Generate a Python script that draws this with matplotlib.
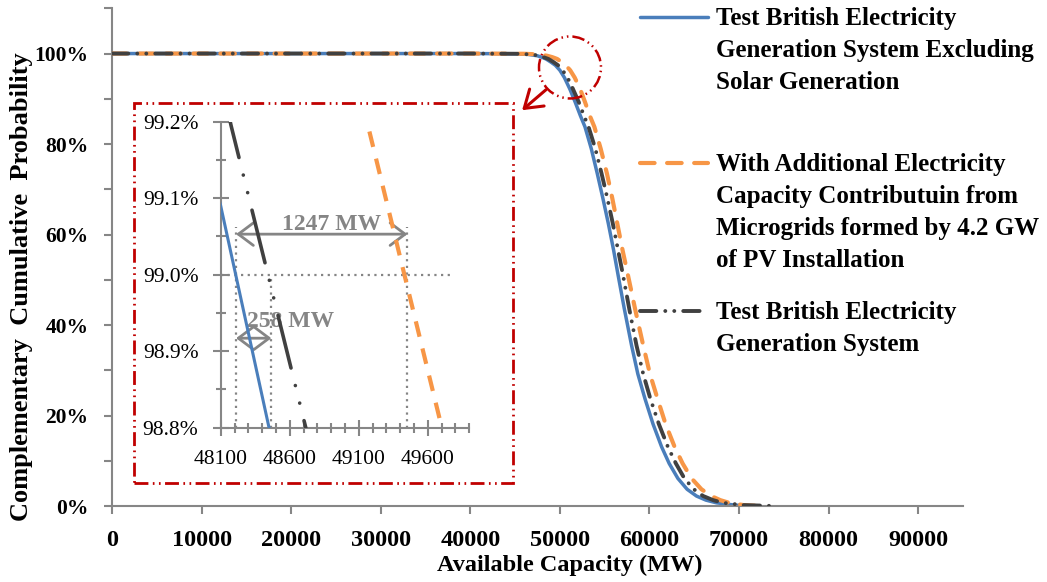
import matplotlib
matplotlib.use('Agg')
import matplotlib.pyplot as plt
from matplotlib.ticker import PercentFormatter, MultipleLocator
from matplotlib.patches import Rectangle, Ellipse, FancyArrowPatch
from matplotlib.lines import Line2D

plt.rcParams['font.family'] = ['Liberation Serif', 'DejaVu Serif']

# available capacity (MW) vs complementary cumulative probability
cap_excl = [0, 40000, 45000, 46500, 47500, 48100, 48450, 49000, 49500, 50000, 50500, 51100,
            51700, 52300, 52800, 53500, 54170, 54800, 55400, 56000, 56500, 57200, 58000,
            58700, 59500, 60400, 61350, 62200, 63170, 64200, 65250, 66300, 67480, 69500, 71500]
prob_excl = [1.0, 1.0, 0.9995, 0.998, 0.995, 0.9909, 0.988, 0.981, 0.974, 0.963, 0.947, 0.922,
             0.893, 0.862, 0.838, 0.79, 0.735, 0.68, 0.625, 0.565, 0.51, 0.435, 0.355,
             0.292, 0.237, 0.181, 0.131, 0.094, 0.061, 0.037, 0.022, 0.013, 0.007, 0.002, 0.0]

cap_pv = [0, 40000, 46000, 47700, 48600, 49162, 49701, 50200, 50650, 51150, 51650, 52250,
          52800, 53350, 53850, 54550, 55250, 55850, 56400, 57000, 57600, 58400, 59300,
          60050, 60900, 61800, 62800, 63700, 64700, 65800, 66900, 67900, 68900, 70500, 72500]
prob_pv = [1.0, 1.0, 0.9995, 0.998, 0.995, 0.99198, 0.988, 0.981, 0.974, 0.963, 0.947, 0.922,
           0.893, 0.862, 0.838, 0.79, 0.735, 0.68, 0.625, 0.565, 0.51, 0.435, 0.355,
           0.292, 0.237, 0.181, 0.131, 0.094, 0.061, 0.037, 0.022, 0.013, 0.007, 0.002, 0.0]

cap_test = [0, 40000, 45300, 46800, 47800, 48175, 48716, 49300, 49800, 50300, 50850, 51450,
            52100, 52700, 53200, 53950, 54650, 55300, 55900, 56500, 57050, 57750, 58550,
            59300, 60100, 61050, 62050, 62950, 63900, 64950, 66000, 67100, 68200, 70500, 74000]
prob_test = [1.0, 1.0, 0.9995, 0.998, 0.995, 0.99195, 0.988, 0.981, 0.974, 0.963, 0.947, 0.922,
             0.893, 0.862, 0.838, 0.79, 0.735, 0.68, 0.625, 0.565, 0.51, 0.435, 0.355,
             0.292, 0.237, 0.181, 0.131, 0.094, 0.061, 0.037, 0.022, 0.013, 0.007, 0.002, 0.0]

# capacities where each curve crosses 99.0 %
level = 0.99
cross_excl = 48211
cross_test = 48467
cross_pv = 49452
gap_test = 258
gap_pv = 1247

labels_excl = ['Test British Electricity', 'Generation System Excluding', 'Solar Generation']
labels_pv = ['With Additional Electricity', 'Capacity Contributuin from',
             'Microgrids formed by 4.2 GW', 'of PV Installation']
labels_test = ['Test British Electricity', 'Generation System']

blue = '#4A7EBB'
orange = '#F79646'
dark = '#404040'
red = '#C00000'
axis_gray = '#868686'
note_gray = '#858585'

W, H = 1047, 582


def fx(px):
    return px / W


def fy(py):
    return 1 - py / H


style_excl = dict(color=blue, lw=2.5, solid_capstyle='round')
style_pv = dict(color=orange, lw=3, ls=(0, (3.5, 3)), dash_capstyle='round')
style_test = dict(color=dark, lw=2.8, ls=(0, (4.2, 2.3, 0.01, 2.3, 0.01, 2.3)), dash_capstyle='round')

fig = plt.figure(figsize=(W / 100, H / 100), dpi=100)

# main chart
ax = fig.add_axes([fx(112), fy(506), fx(963) - fx(112), fy(8.3) - fy(506)])
ax.plot(cap_excl, prob_excl, zorder=2, **style_excl)
ax.plot(cap_pv, prob_pv, zorder=3, **style_pv)
ax.plot(cap_test, prob_test, zorder=4, **style_test)
ax.set_xlim(0, 95000)
ax.set_ylim(0, 1.1)
ax.set_xticks(range(0, 95000, 10000))
ax.yaxis.set_major_locator(MultipleLocator(0.2))
ax.yaxis.set_minor_locator(MultipleLocator(0.1))
ax.yaxis.set_major_formatter(PercentFormatter(xmax=1, decimals=0))
for s in ['top', 'right']:
    ax.spines[s].set_visible(False)
for s in ['left', 'bottom']:
    ax.spines[s].set_color(axis_gray)
    ax.spines[s].set_linewidth(1.5)
ax.tick_params(which='both', direction='out', length=6, width=1.5, color=axis_gray)
ax.tick_params(axis='x', labelsize=17.5, pad=11)
ax.tick_params(axis='y', labelsize=15.5, pad=11)
for t in ax.get_xticklabels() + ax.get_yticklabels():
    t.set_fontweight('bold')

fig.text(fx(570), fy(565), 'Available Capacity (MW)', ha='center', va='center',
         fontsize=17.5, fontweight='bold')
fig.text(fx(22), fy(287), 'Complementary  Cumulative  Probability', ha='center', va='center',
         rotation=90, fontsize=19, fontweight='bold')

# legend drawn by hand so each handle sits on the first text line
legend_rows = [(17, style_excl, labels_excl), (163, style_pv, labels_pv), (311, style_test, labels_test)]
for y0, st, lines in legend_rows:
    fig.add_artist(Line2D([fx(640), fx(708)], [fy(y0), fy(y0)], **st))
    for i, line in enumerate(lines):
        fig.text(fx(716), fy(y0 + 1 + 32.3 * i), line, ha='left', va='center',
                 fontsize=18, fontweight='bold')

# zoomed inset
axi = fig.add_axes([fx(220.7), fy(427.7), fx(469.3) - fx(220.7), fy(121.7) - fy(427.7)])
axi.plot(cap_excl, prob_excl, color=blue, lw=2.2, zorder=3)
axi.plot(cap_test, prob_test, color=dark, lw=2.6, ls=(0, (15, 5, 0.01, 5, 0.01, 5)),
         dash_capstyle='round', zorder=3)
axi.plot(cap_pv, prob_pv, color=orange, lw=3, ls=(0, (3.8, 2.9)), zorder=3)
axi.set_xlim(48100, 49900)
axi.set_ylim(0.988, 0.992)
axi.set_xticks([48100, 48600, 49100, 49600])
axi.xaxis.set_minor_locator(MultipleLocator(100))
axi.yaxis.set_major_locator(MultipleLocator(0.001))
axi.yaxis.set_minor_locator(MultipleLocator(0.0005))
axi.yaxis.set_major_formatter(PercentFormatter(xmax=1, decimals=1))
for s in ['top', 'right']:
    axi.spines[s].set_visible(False)
for s in ['left', 'bottom']:
    axi.spines[s].set_color(axis_gray)
    axi.spines[s].set_linewidth(1.5)
axi.tick_params(which='major', direction='inout', length=12, width=1.5, color=axis_gray, labelsize=15.5)
axi.tick_params(which='minor', direction='inout', length=7, width=1.5, color=axis_gray)
axi.tick_params(axis='x', pad=10)
axi.tick_params(axis='y', pad=10)

dot = dict(color=note_gray, lw=1.6, ls=(0, (1, 2)), zorder=2)
axi.plot([48100, 49767], [level, level], **dot)
axi.plot([cross_excl, cross_excl], [0.988, 0.99063], **dot)
axi.plot([cross_test, cross_test], [0.988, level], **dot)
axi.plot([cross_pv, cross_pv], [0.988, 0.99063], **dot)

arrow = dict(arrowstyle='<->,head_length=0.6,head_width=0.45', color=note_gray, lw=2,
             mutation_scale=18, shrinkA=0, shrinkB=0)
axi.annotate('', xy=(cross_pv, 0.99053), xytext=(cross_excl, 0.99053), arrowprops=arrow, zorder=2)
axi.annotate('', xy=(cross_test, 0.98917), xytext=(cross_excl, 0.98917), arrowprops=arrow, zorder=2)
axi.text(48906, 0.99066, '%d MW' % gap_pv, ha='center', va='center',
         fontsize=17, fontweight='bold', color=note_gray, zorder=1)
axi.text(48604, 0.98939, '%d MW' % gap_test, ha='center', va='center',
         fontsize=17, fontweight='bold', color=note_gray, zorder=1)

# red call-out: box around the inset, circle on the knee, arrow between
red_ls = (0, (5, 1.6, 0.6, 1.6, 0.6, 1.6))
fig.add_artist(Rectangle((fx(134), fy(483.3)), fx(513.3) - fx(134), fy(103.3) - fy(483.3),
                         transform=fig.transFigure, fill=False, ec=red, lw=2, ls=red_ls))
fig.add_artist(Ellipse((fx(570), fy(67.5)), 62 / W, 62 / H, transform=fig.transFigure,
                       fill=False, ec=red, lw=1.8, ls=red_ls))
fig.add_artist(FancyArrowPatch((fx(548), fy(88)), (fx(520), fy(112)), transform=fig.transFigure,
                               arrowstyle='->,head_length=0.6,head_width=0.4', mutation_scale=20,
                               color=red, lw=2.2))

fig.savefig('out.png', dpi=100)
